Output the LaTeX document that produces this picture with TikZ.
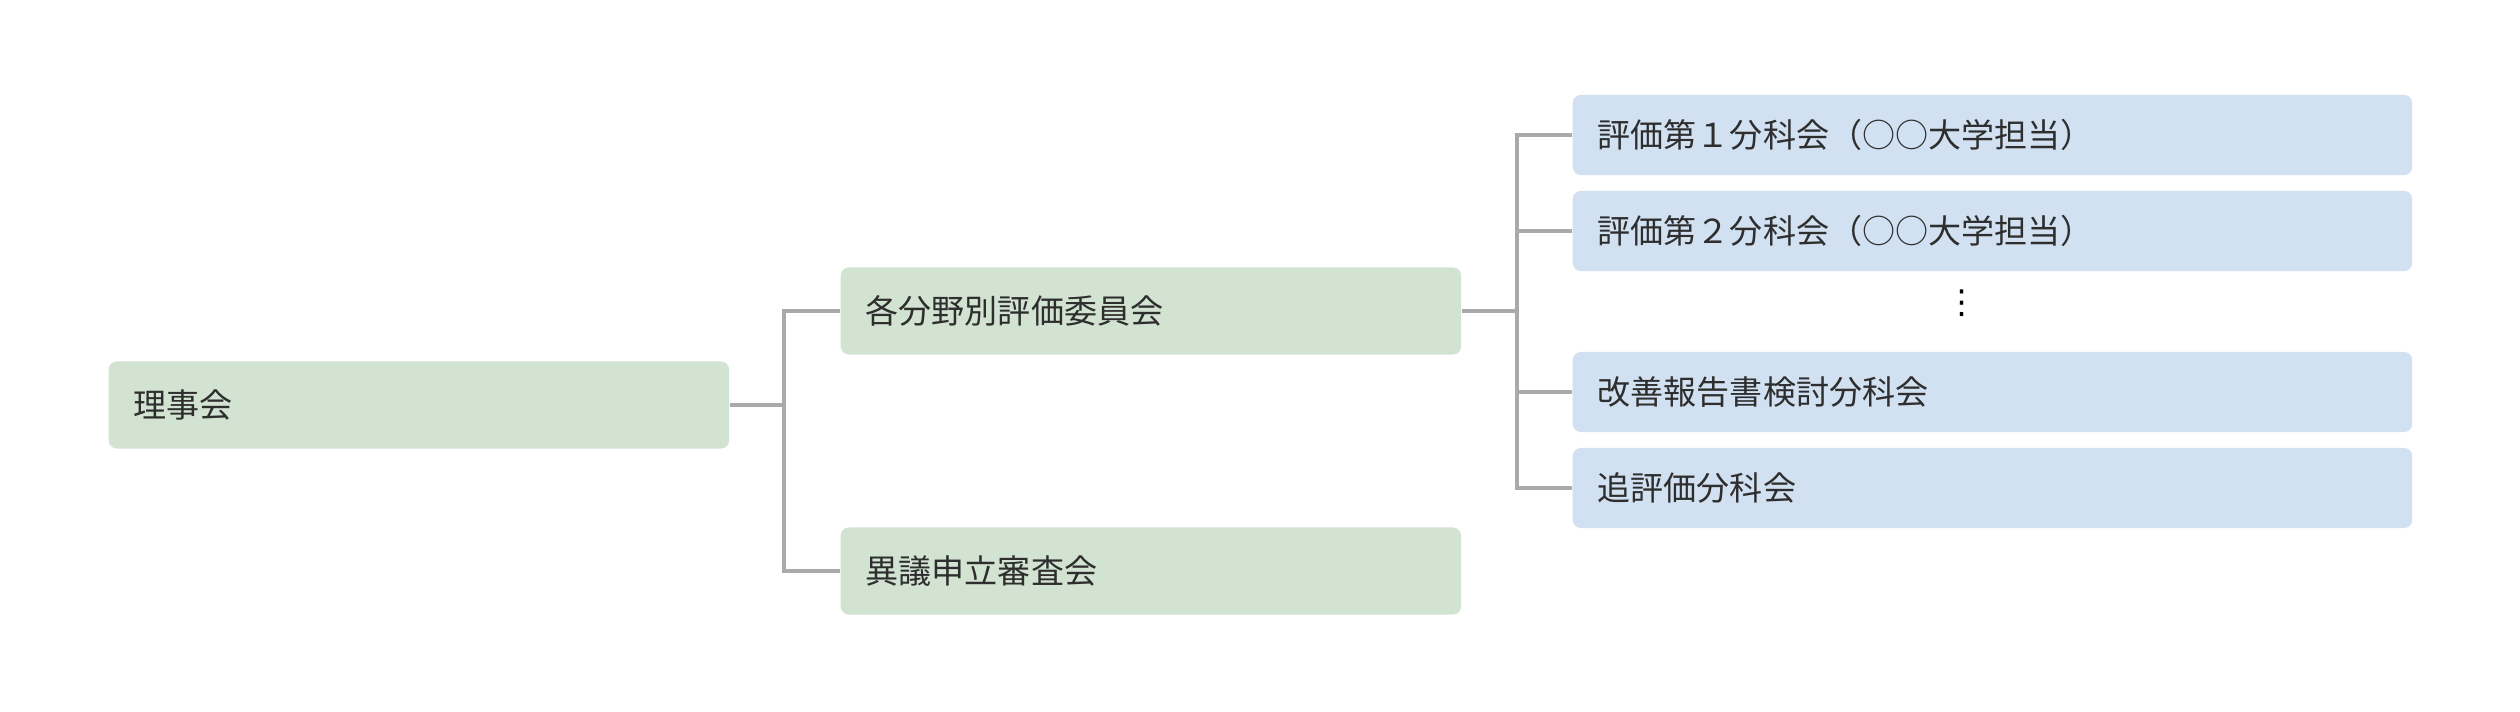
\documentclass[tikz,border=0pt]{standalone}
\usepackage{fontspec}
\newfontfamily\jp{Noto Sans CJK JP}
\newfontfamily\dv{DejaVu Sans}
\definecolor{gfill}{HTML}{D2E3D2}
\definecolor{bfill}{HTML}{D2E1F1}
\definecolor{txt}{HTML}{2E2E2E}
\definecolor{linec}{HTML}{AAAAAA}
\tikzset{
  box/.style={anchor=west, rounded corners=0.08cm, inner xsep=0.25cm, inner ysep=0pt,
    align=left, text=txt, font=\jp\fontsize{9.4pt}{11pt}\selectfont},
  gbox/.style={box, fill=gfill, text width=5.7cm, minimum height=0.87cm},
  bbox/.style={box, fill=bfill, text width=7.89cm, minimum height=0.80cm},
  conn/.style={draw=linec, line width=0.04cm},
}
\begin{document}
\begin{tikzpicture}[x=0.01cm,y=-0.01cm]
\useasboundingbox (0,0) rectangle (2520,712);
\node[gbox] (riji) at (108,405) {理事会};
\node[gbox] (kaku) at (840,311) {各分野別評価委員会};
\node[gbox] (igi) at (840,571) {異議申立審査会};
\node[bbox] (b1) at (1572,135) {評価第１分科会（○○大学担当）};
\node[bbox] (b2) at (1572,231) {評価第２分科会（○○大学担当）};
\node[bbox] (b3) at (1572,392) {改善報告書検討分科会};
\node[bbox] (b4) at (1572,488) {追評価分科会};
\node[text=black, font=\dv\fontsize{9.4pt}{11pt}\selectfont, inner sep=0pt] (dots) at (1962,303) {⋮};
\draw[conn] (riji.east) -- ++(54,0) coordinate (j1);
\draw[conn] (kaku.west) -| (j1);
\draw[conn] (igi.west) -| (j1);
\draw[conn] (kaku.east) -- ++(55,0) coordinate (j2);
\draw[conn] (b1.west) -| (j2);
\draw[conn] (b2.west) -| (j2);
\draw[conn] (b3.west) -| (j2);
\draw[conn] (b4.west) -| (j2);
\end{tikzpicture}
\end{document}
